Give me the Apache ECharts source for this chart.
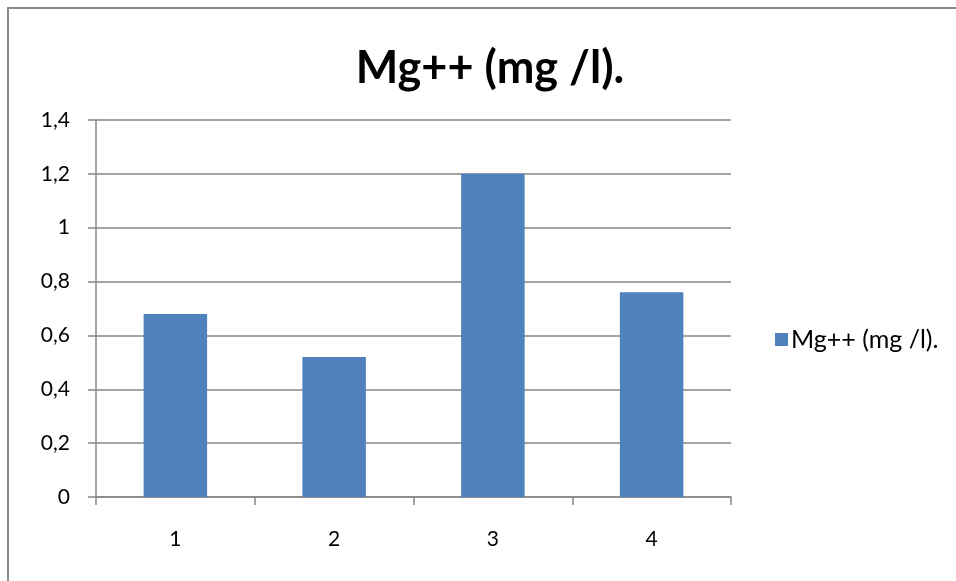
<!DOCTYPE html>
<html><head><meta charset="utf-8">
<script src="https://cdn.jsdelivr.net/npm/echarts@6/dist/echarts.min.js"></script>
<style>html,body{margin:0;padding:0;background:#fff}#c{width:956px;height:581px}</style>
</head><body><div id="c"></div>
<script>
const categories = ['1', '2', '3', '4'];
const values = [0.68, 0.52, 1.2, 0.76];
const seriesName = 'Mg++ (mg /l).';
const titleText = 'Mg++ (mg /l).';

const chart = echarts.init(document.getElementById('c'));
const FONT = 'Lato';
chart.setOption({
  animation: false,
  backgroundColor: '#fff',
  graphic: [{
    type: 'rect', shape: {x: 8, y: 8, width: 1000, height: 1000},
    style: {fill: 'none', stroke: '#8a8a8a', lineWidth: 2}, silent: true, z: -1
  }],
  title: {
    text: titleText, left: 485, top: 41, textAlign: 'center',
    textStyle: {fontFamily: FONT, fontWeight: 'bold', fontSize: 45, color: '#000'}
  },
  legend: {
    data: [seriesName], left: 770, top: 322, itemWidth: 13, itemHeight: 13, itemGap: 8,
    textStyle: {fontFamily: FONT, fontSize: 25, color: '#000', padding: [0,0,0,-2]}, icon: 'rect'
  },
  grid: {left: 96, right: 225, top: 120, bottom: 84, containLabel: false},
  xAxis: {
    type: 'category', data: categories,
    axisLine: {lineStyle: {color: '#868686', width: 1.5}},
    axisTick: {show: true, length: 8, lineStyle: {color: '#868686', width: 1.5}},
    axisLabel: {fontFamily: FONT, fontSize: 21, color: '#000', margin: 32}
  },
  yAxis: {
    type: 'value', min: 0, max: 1.4, interval: 0.2,
    axisLine: {show: true, lineStyle: {color: '#868686', width: 1.5}},
    axisTick: {show: true, length: 8, lineStyle: {color: '#868686', width: 1.5}},
    splitLine: {lineStyle: {color: '#868686', width: 1.5}},
    axisLabel: {fontFamily: FONT, fontSize: 21, color: '#000', margin: 26,
      formatter: v => String(Math.round(v*10)/10).replace('.', ',')}
  },
  series: [{
    name: seriesName, type: 'bar', data: values, barCategoryGap: '60%',
    itemStyle: {color: '#4F81BD'}
  }]
});
</script></body></html>
